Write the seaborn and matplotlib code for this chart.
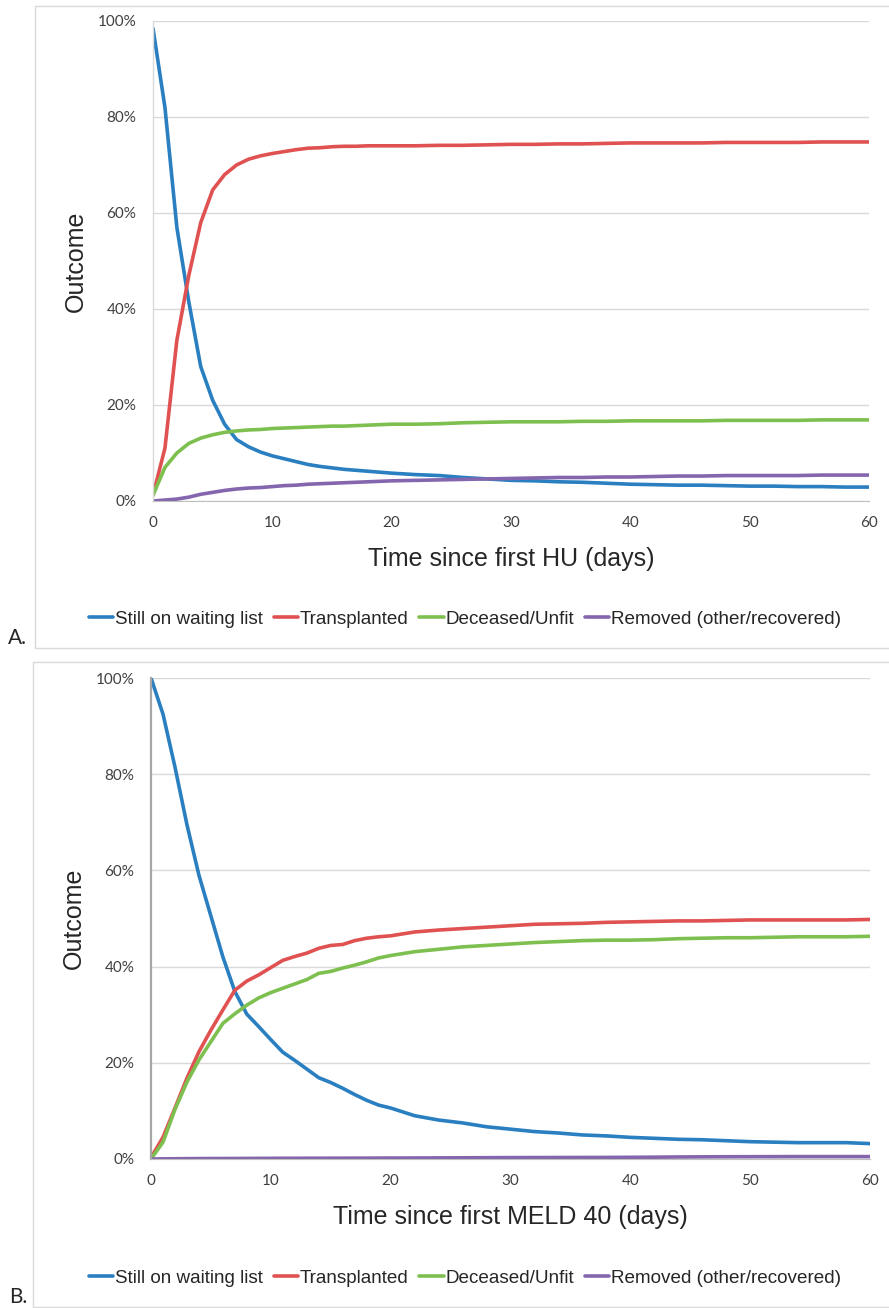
import pandas as pd
import seaborn as sns
import matplotlib.pyplot as plt
from matplotlib.lines import Line2D
from matplotlib.ticker import PercentFormatter

# days sampled: daily up to 20, then every 2 days
days = list(range(0, 21)) + list(range(22, 61, 2))

OUTCOMES = ["Still on waiting list", "Transplanted", "Deceased/Unfit", "Removed (other/recovered)"]
COLORS = ["#2a7fc1", "#e05252", "#7ec050", "#8466ae"]

# Panel A: time since first HU
hu_waiting = [98.5, 82, 57, 41.5, 28, 21, 16, 12.8, 11.3, 10.2, 9.4, 8.8, 8.2, 7.6, 7.2, 6.9, 6.6, 6.4, 6.2, 6.0, 5.8,
              5.5, 5.3, 4.9, 4.6, 4.3, 4.2, 4.0, 3.9, 3.7, 3.5, 3.4, 3.3, 3.3, 3.2, 3.1, 3.1, 3.0, 3.0, 2.9, 2.9]
hu_transplanted = [1.2, 11, 33.5, 47, 58, 64.8, 68, 70, 71.2, 71.9, 72.4, 72.8, 73.2, 73.5, 73.6, 73.8, 73.9, 73.9, 74.0, 74.0, 74.0,
                   74.0, 74.1, 74.1, 74.2, 74.3, 74.3, 74.4, 74.4, 74.5, 74.6, 74.6, 74.6, 74.6, 74.7, 74.7, 74.7, 74.7, 74.8, 74.8, 74.8]
hu_deceased = [1.2, 7, 10, 12, 13.1, 13.8, 14.3, 14.6, 14.8, 14.9, 15.1, 15.2, 15.3, 15.4, 15.5, 15.6, 15.6, 15.7, 15.8, 15.9, 16.0,
               16.0, 16.1, 16.3, 16.4, 16.5, 16.5, 16.5, 16.6, 16.6, 16.7, 16.7, 16.7, 16.7, 16.8, 16.8, 16.8, 16.8, 16.9, 16.9, 16.9]
hu_removed = [0, 0.2, 0.4, 0.8, 1.4, 1.8, 2.2, 2.5, 2.7, 2.8, 3.0, 3.2, 3.3, 3.5, 3.6, 3.7, 3.8, 3.9, 4.0, 4.1, 4.2,
              4.3, 4.4, 4.5, 4.6, 4.7, 4.8, 4.9, 4.9, 5.0, 5.0, 5.1, 5.2, 5.2, 5.3, 5.3, 5.3, 5.3, 5.4, 5.4, 5.4]

# Panel B: time since first MELD 40
meld_waiting = [100, 92.5, 81.5, 69.5, 59, 50.5, 42, 34.8, 30.1, 27.5, 24.8, 22.2, 20.5, 18.7, 16.9, 15.9, 14.7, 13.4, 12.2, 11.2, 10.6,
                9.0, 8.1, 7.5, 6.7, 6.2, 5.7, 5.4, 5.0, 4.8, 4.5, 4.3, 4.1, 4.0, 3.8, 3.6, 3.5, 3.4, 3.4, 3.4, 3.2]
meld_transplanted = [0.3, 4.5, 10.6, 16.8, 22.3, 26.8, 31.0, 35.1, 37, 38.3, 39.8, 41.3, 42.1, 42.8, 43.8, 44.4, 44.6, 45.4, 45.9, 46.2, 46.4,
                     47.2, 47.6, 47.9, 48.2, 48.5, 48.8, 48.9, 49.0, 49.2, 49.3, 49.4, 49.5, 49.5, 49.6, 49.7, 49.7, 49.7, 49.7, 49.7, 49.8]
meld_deceased = [0, 3.5, 10.3, 16, 20.6, 24.4, 28.2, 30.2, 32.0, 33.5, 34.6, 35.5, 36.4, 37.3, 38.6, 39.0, 39.7, 40.3, 41.0, 41.8, 42.3,
                 43.1, 43.6, 44.1, 44.4, 44.7, 45.0, 45.2, 45.4, 45.5, 45.5, 45.6, 45.8, 45.9, 46.0, 46.0, 46.1, 46.2, 46.2, 46.2, 46.3]
meld_removed = [0, 0.03, 0.05, 0.07, 0.09, 0.1, 0.1, 0.11, 0.12, 0.13, 0.14, 0.15, 0.15, 0.16, 0.16, 0.17, 0.17, 0.18, 0.18, 0.19, 0.2,
                0.21, 0.23, 0.25, 0.27, 0.29, 0.3, 0.31, 0.32, 0.33, 0.35, 0.38, 0.42, 0.45, 0.47, 0.48, 0.49, 0.5, 0.5, 0.5, 0.5]

sns.set_style("white")
plt.rcParams["font.family"] = ["Liberation Sans", "DejaVu Sans"]

W, H = 889, 1308
fig = plt.figure(figsize=(W / 100, H / 100), dpi=100)


def px_rect(left, top, right, bottom):
    return [left / W, 1 - bottom / H, (right - left) / W, (bottom - top) / H]


def long_form(series):
    frames = [pd.DataFrame({"day": days, "pct": vals, "outcome": name}) for name, vals in zip(OUTCOMES, series)]
    return pd.concat(frames, ignore_index=True)


def draw_box(left, top, bottom):
    kw = dict(color="#d9d9d9", lw=1, transform=fig.transFigure)
    fig.add_artist(Line2D([left / W, left / W], [1 - top / H, 1 - bottom / H], **kw))
    fig.add_artist(Line2D([left / W, 1], [1 - top / H, 1 - top / H], **kw))
    fig.add_artist(Line2D([left / W, 1], [1 - bottom / H, 1 - bottom / H], **kw))


def draw_panel(rect, series, xlabel, legend_y, left_spine):
    ax = fig.add_axes(rect)
    df = long_form(series)
    sns.lineplot(data=df, x="day", y="pct", hue="outcome", hue_order=OUTCOMES,
                 palette=COLORS, lw=2.6, ax=ax)
    ax.set_xlim(0, 60)
    ax.set_ylim(0, 100)
    ax.set_xticks(range(0, 61, 10))
    ax.set_yticks(range(0, 101, 20))
    ax.yaxis.set_major_formatter(PercentFormatter(decimals=0))
    ax.grid(axis="y", color="#d9d9d9", lw=1)
    ax.set_axisbelow(True)
    for side in ["top", "right"]:
        ax.spines[side].set_visible(False)
    ax.spines["bottom"].set_color("#bfbfbf")
    ax.spines["left"].set_color(left_spine[0])
    ax.spines["left"].set_linewidth(left_spine[1])
    ax.tick_params(length=0, labelsize=11, labelcolor="#404040")
    ax.tick_params(axis="y", pad=12)
    ax.tick_params(axis="x", pad=11)
    for lab in ax.get_xticklabels() + ax.get_yticklabels():
        lab.set_fontfamily("Lato")
    ax.set_xlabel(xlabel, fontsize=18, labelpad=12)
    ax.set_ylabel("Outcome", fontsize=18, labelpad=7)
    sns.move_legend(ax, "center", bbox_to_anchor=(465 / W, 1 - legend_y / H), bbox_transform=fig.transFigure,
                    ncol=4, frameon=False, title=None, fontsize=13.6, handlelength=1.3,
                    handletextpad=0.1, columnspacing=0.55)
    return ax


draw_box(34.5, 5.5, 648)
draw_box(32.5, 662, 1306.5)

draw_panel(px_rect(153, 21, 869, 501), [hu_waiting, hu_transplanted, hu_deceased, hu_removed],
           "Time since first HU (days)", 619, ("#d9d9d9", 1.0))
draw_panel(px_rect(151, 678, 870, 1159), [meld_waiting, meld_transplanted, meld_deceased, meld_removed],
           "Time since first MELD 40 (days)", 1278, ("#a6a6a6", 1.6))

fig.text(8 / W, 1 - 648 / H, "A.", fontsize=15, family="Lato", va="bottom", ha="left")
fig.text(9 / W, 1 - 1307 / H, "B.", fontsize=15, family="Lato", va="bottom", ha="left")

fig.savefig("out.png", dpi=100)
